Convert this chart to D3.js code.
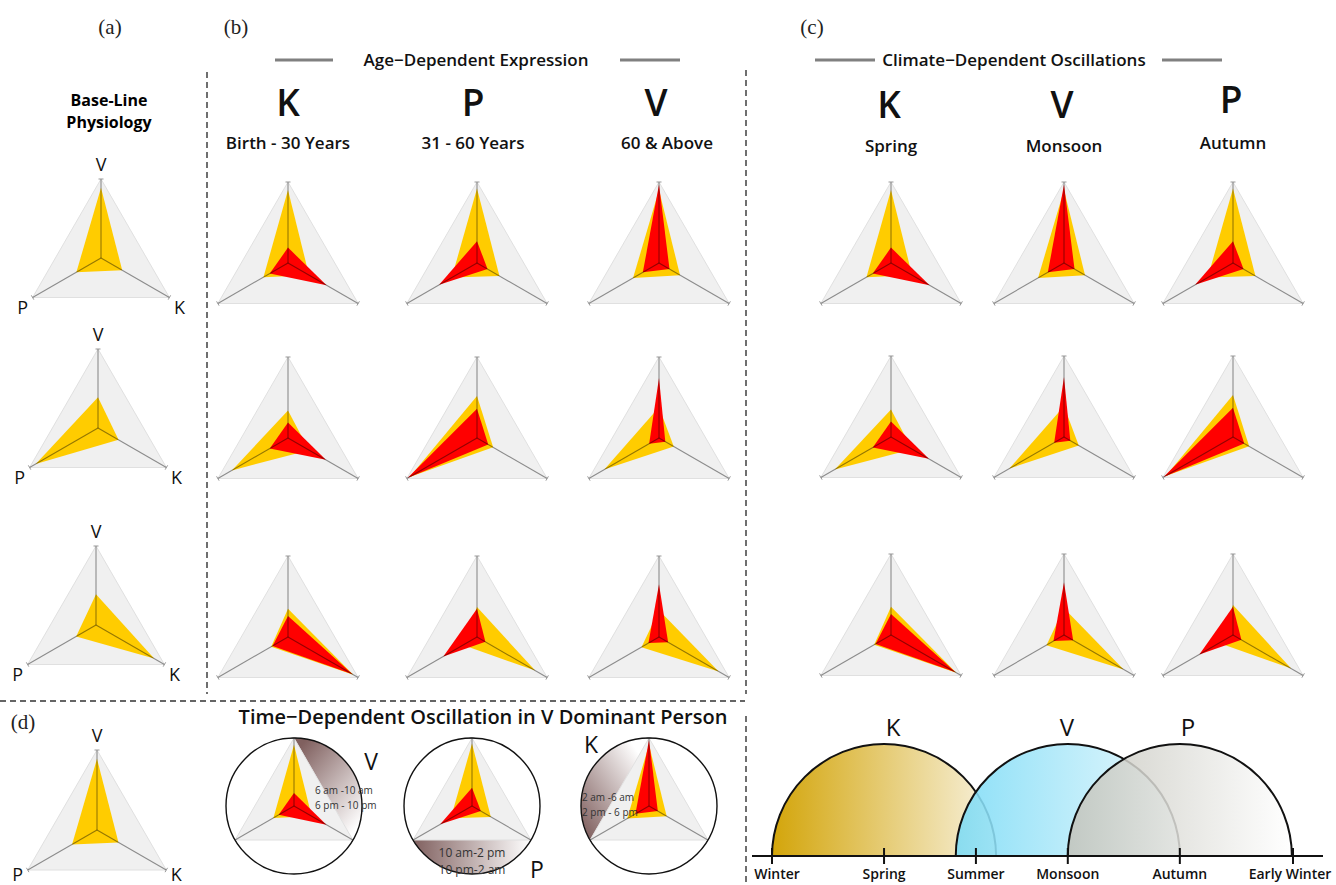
<!DOCTYPE html>
<html>
<head>
<meta charset="utf-8">
<title>Dosha expression radars</title>
<script src="https://d3js.org/d3.v7.min.js"></script>
<style>
html, body { margin: 0; padding: 0; background: #fff; }
svg { display: block; font-family: "Open Sans", sans-serif; }
</style>
</head>
<body>
<div id="chart"></div>
<script>
// radar axes, clockwise from the top
var axes = ["V", "K", "P"];
var constitutions = ["V", "P", "K"];      // rows of (a), (b), (c)
var ageCols = ["K", "P", "V"];            // columns of (b)
var ageLabels = ["Birth - 30 Years", "31 - 60 Years", "60 & Above"];
var climateCols = ["K", "V", "P"];        // columns of (c)
var climateLabels = ["Spring", "Monsoon", "Autumn"];

// base-line physiology (values in axis order V, K, P)
var baseline = {
  V: [0.89, 0.31, 0.36],
  P: [0.39, 0.30, 0.91],
  K: [0.39, 0.85, 0.29]
};
// yellow polygon per constitution and per raised dosha
var yellowVals = {
  V: { K: [0.90, 0.30, 0.35], P: [0.92, 0.32, 0.36], V: [0.90, 0.30, 0.37] },
  P: { K: [0.34, 0.30, 0.80], P: [0.52, 0.23, 0.96], V: [0.38, 0.21, 0.78] },
  K: { K: [0.35, 0.93, 0.24], P: [0.37, 0.83, 0.20], V: [0.33, 0.85, 0.25] }
};
// red polygon per constitution and per raised dosha
var redVals = {
  V: { K: [0.19, 0.55, 0.26], P: [0.27, 0.15, 0.54], V: [0.97, 0.15, 0.23] },
  P: { K: [0.19, 0.54, 0.26], P: [0.36, 0.16, 0.99], V: [0.74, 0.09, 0.14] },
  K: { K: [0.26, 0.92, 0.22], P: [0.35, 0.12, 0.48], V: [0.65, 0.13, 0.15] }
};

// time of day panel (d): V-dominant person
var timeDosha = ["K", "P", "V"];
var timeLabels = [["6 am -10 am", "6 pm - 10 pm"], ["10 am-2 pm", "10 pm-2 am"], ["2 am -6 am", "2 pm - 6 pm"]];
var timeLetters = ["V", "P", "K"];

// seasons
var seasons = ["Winter", "Spring", "Summer", "Monsoon", "Autumn", "Early Winter"];
var seasonAt = [0, 1, 1.82, 2.64, 3.64, 4.65];
var seasonArcs = ["K", "V", "P"];
var arcCenters = [1, 2.64, 3.64];

var W = 1336, H = 885;
var svg = d3.select("#chart").append("svg").attr("width", W).attr("height", H);
var defs = svg.append("defs");

var ang = d3.scalePoint().domain(axes).range([0, 4 * Math.PI / 3]);

function radar(cx, cy, R, yv, rv, labels, lowDy) {
  var rs = d3.scaleLinear().domain([0, 1]).range([0, R]);
  var line = d3.lineRadial()
    .angle(function(d, i) { return ang(axes[i]); })
    .radius(function(d) { return rs(d); })
    .curve(d3.curveLinearClosed);
  var g = svg.append("g").attr("transform", "translate(" + cx + "," + cy + ")");
  g.append("path").attr("d", line([1, 1, 1]))
    .attr("fill", "#f0f0f0").attr("stroke", "#e0e0e0").attr("stroke-width", 1);
  g.append("path").attr("d", line(yv)).attr("fill", "#ffcc00");
  if (rv) g.append("path").attr("d", line(rv)).attr("fill", "#ff0000");
  axes.forEach(function(a) {
    var p = d3.pointRadial(ang(a), R);
    g.append("line").attr("x1", 0).attr("y1", 0).attr("x2", p[0]).attr("y2", p[1])
      .attr("stroke", "#000").attr("stroke-opacity", 0.42).attr("stroke-width", 1.1);
    var q = d3.pointRadial(ang(a) + Math.PI / 2, 2.5);
    g.append("line").attr("x1", p[0] - q[0]).attr("y1", p[1] - q[1])
      .attr("x2", p[0] + q[0]).attr("y2", p[1] + q[1])
      .attr("stroke", "#999").attr("stroke-width", 1);
  });
  if (labels) {
    var dy = lowDy || 16;
    var lt = g.append("g").attr("font-size", 18).attr("fill", "#111").attr("font-weight", 500);
    lt.append("text").attr("x", 0).attr("y", -R - 8).attr("text-anchor", "middle").text("V");
    lt.append("text").attr("x", -R * 0.866 - 10).attr("y", R * 0.5 + dy).attr("text-anchor", "middle").text("P");
    lt.append("text").attr("x", R * 0.866 + 10).attr("y", R * 0.5 + dy).attr("text-anchor", "middle").text("K");
  }
  return g;
}

// ---------- panel labels ----------
var serif = svg.append("g").attr("font-family", "'Liberation Serif', 'DejaVu Serif', serif")
  .attr("font-size", 21).attr("fill", "#222");
serif.append("text").attr("x", 110).attr("y", 34).attr("text-anchor", "middle").text("(a)");
serif.append("text").attr("x", 236).attr("y", 34).attr("text-anchor", "middle").text("(b)");
serif.append("text").attr("x", 812).attr("y", 34).attr("text-anchor", "middle").text("(c)");
serif.append("text").attr("x", 23).attr("y", 729).attr("text-anchor", "middle").text("(d)");

// ---------- dashed separators ----------
var dash = svg.append("g").attr("stroke", "#333").attr("stroke-width", 1.4).attr("stroke-dasharray", "6,4");
dash.append("line").attr("x1", 207).attr("y1", 72).attr("x2", 207).attr("y2", 694);
dash.append("line").attr("x1", 746).attr("y1", 70).attr("x2", 746).attr("y2", 694);
dash.append("line").attr("x1", 0).attr("y1", 701).attr("x2", 745).attr("y2", 701);
dash.append("line").attr("x1", 746).attr("y1", 716).attr("x2", 746).attr("y2", 885);

// ---------- (a) ----------
svg.append("text").attr("x", 109).attr("y", 106).attr("text-anchor", "middle")
  .attr("font-size", 16).attr("font-weight", 700).text("Base-Line");
svg.append("text").attr("x", 109).attr("y", 128).attr("text-anchor", "middle")
  .attr("font-size", 16).attr("font-weight", 700).text("Physiology");
var aCenters = [[101, 258], [98, 428], [96, 625]];
constitutions.forEach(function(c, i) {
  radar(aCenters[i][0], aCenters[i][1], 79, baseline[c], null, true);
});

// ---------- headers for (b) and (c) ----------
function header(title, cx, l1, l2) {
  svg.append("text").attr("x", cx).attr("y", 66).attr("text-anchor", "middle")
    .attr("font-size", 17).attr("font-weight", 600).attr("fill", "#111").text(title);
  var hl = svg.append("g").attr("stroke", "#808080").attr("stroke-width", 3);
  hl.append("line").attr("x1", l1[0]).attr("x2", l1[1]).attr("y1", 60).attr("y2", 60);
  hl.append("line").attr("x1", l2[0]).attr("x2", l2[1]).attr("y1", 60).attr("y2", 60);
}
header("Age\u2212Dependent Expression", 476, [275, 333], [620, 680]);
header("Climate\u2212Dependent Oscillations", 1014, [815, 875], [1162, 1222]);

var bX = [288, 477, 659], bY = [263, 438, 637];
var cX = [891, 1064, 1233], cY = [263, 437, 635];
var R = 81;

ageCols.forEach(function(d, j) {
  svg.append("text").attr("x", [288, 473, 656][j]).attr("y", 116).attr("text-anchor", "middle")
    .attr("font-size", 37).attr("font-weight", 600).attr("fill", "#111").text(d);
  svg.append("text").attr("x", [288, 473, 667][j]).attr("y", 149).attr("text-anchor", "middle")
    .attr("font-size", 17).attr("font-weight", 600).attr("fill", "#111").text(ageLabels[j]);
});
climateCols.forEach(function(d, j) {
  svg.append("text").attr("x", cX[j] - 2).attr("y", [118, 118, 113][j]).attr("text-anchor", "middle")
    .attr("font-size", 37).attr("font-weight", 600).attr("fill", "#111").text(d);
  svg.append("text").attr("x", cX[j]).attr("y", [152, 152, 149][j]).attr("text-anchor", "middle")
    .attr("font-size", 17).attr("font-weight", 600).attr("fill", "#111").text(climateLabels[j]);
});

// ---------- (b) and (c) radars ----------
constitutions.forEach(function(c, i) {
  ageCols.forEach(function(d, j) {
    radar(bX[j], bY[i], R, yellowVals[c][d], redVals[c][d], false);
  });
  climateCols.forEach(function(d, j) {
    radar(cX[j], cY[i], R, yellowVals[c][d], redVals[c][d], false);
  });
});

// ---------- (d) ----------
radar(97, 830, 80, baseline.V, null, true, 11);
svg.append("text").attr("x", 483).attr("y", 724).attr("text-anchor", "middle")
  .attr("font-size", 20).attr("font-weight", 600).attr("fill", "#111")
  .text("Time\u2212Dependent Oscillation in V Dominant Person");

var dX = [294, 472, 649], dY = 806, dR = 68;
// band chord: which two axes bound the shaded segment (clockwise)
var bandFrom = ["V", "K", "P"], bandTo = ["K", "P", "V"];
var gradDirs = [[0.2, 0, 0.9, 0.9], [0, 0.5, 1, 0.5], [0.1, 1, 0.9, 0.2]];
timeDosha.forEach(function(d, k) {
  var cx = dX[k];
  var gid = "band" + k;
  var gr = defs.append("linearGradient").attr("id", gid)
    .attr("x1", gradDirs[k][0]).attr("y1", gradDirs[k][1])
    .attr("x2", gradDirs[k][2]).attr("y2", gradDirs[k][3]);
  gr.append("stop").attr("offset", 0).attr("stop-color", "#80605f");
  gr.append("stop").attr("offset", 1).attr("stop-color", "#ffffff");

  var g = radar(cx, dY, dR, yellowVals.V[d], redVals.V[d], false);
  var a = d3.pointRadial(ang(bandFrom[k]), dR), b = d3.pointRadial(ang(bandTo[k]), dR);
  g.insert("path", ":first-child")
    .attr("d", "M" + a[0] + "," + a[1] + "A" + dR + "," + dR + " 0 0 1 " + b[0] + "," + b[1] + "Z")
    .attr("fill", "url(#" + gid + ")");
  g.append("circle").attr("r", dR).attr("fill", "none").attr("stroke", "#111").attr("stroke-width", 1.4);
});
var tl = svg.append("g").attr("fill", "#333");
tl.append("text").attr("x", 315).attr("y", 794).attr("font-size", 10).text(timeLabels[0][0]);
tl.append("text").attr("x", 315).attr("y", 809).attr("font-size", 10).text(timeLabels[0][1]);
tl.append("text").attr("x", 472).attr("y", 857).attr("font-size", 12).attr("text-anchor", "middle").text(timeLabels[1][0]);
tl.append("text").attr("x", 472).attr("y", 874).attr("font-size", 12).attr("text-anchor", "middle").text(timeLabels[1][1]);
tl.append("text").attr("x", 582).attr("y", 801).attr("font-size", 10).text(timeLabels[2][0]);
tl.append("text").attr("x", 582).attr("y", 816).attr("font-size", 10).text(timeLabels[2][1]);
var bl = svg.append("g").attr("font-size", 23).attr("fill", "#111").attr("text-anchor", "middle");
bl.append("text").attr("x", 371).attr("y", 770).text(timeLetters[0]);
bl.append("text").attr("x", 537).attr("y", 878).text(timeLetters[1]);
bl.append("text").attr("x", 591).attr("y", 753).text(timeLetters[2]);

// ---------- seasons ----------
var sx = d3.scaleLinear().domain([0, 4.65]).range([772, 1293]);
var baseY = 856;
var unit = sx(1) - sx(0);
var arcColors = { K: ["#d3a50a", "#f8f2df"], V: ["#7bdbf6", "#e8f8fd"], P: ["#c3c3ba", "#ffffff"] };
var arcOpacity = { K: 1, V: 0.88, P: 0.85 };
var letterX = { K: 893, V: 1067, P: 1188 };
seasonArcs.forEach(function(s, i) {
  var gid = "season" + s;
  var gr = defs.append("linearGradient").attr("id", gid).attr("x1", 0).attr("x2", 1).attr("y1", 0).attr("y2", 0);
  gr.append("stop").attr("offset", 0).attr("stop-color", arcColors[s][0]);
  gr.append("stop").attr("offset", 1).attr("stop-color", arcColors[s][1]);
  var cx = sx(arcCenters[i]);
  svg.append("path")
    .attr("d", "M" + (cx - unit) + "," + baseY + "A" + unit + "," + unit + " 0 0 1 " + (cx + unit) + "," + baseY + "Z")
    .attr("fill", "url(#" + gid + ")").attr("fill-opacity", arcOpacity[s]);
  svg.append("path")
    .attr("d", "M" + (cx - unit) + "," + baseY + "A" + unit + "," + unit + " 0 0 1 " + (cx + unit) + "," + baseY)
    .attr("fill", "none").attr("stroke", "#111").attr("stroke-width", 2);
  svg.append("text").attr("x", letterX[s]).attr("y", 736).attr("text-anchor", "middle")
    .attr("font-size", 24).attr("fill", "#111").text(s);
});
svg.append("line").attr("x1", 752).attr("x2", 1323).attr("y1", baseY).attr("y2", baseY)
  .attr("stroke", "#111").attr("stroke-width", 2);
var ticks = svg.append("g");
seasons.forEach(function(s, i) {
  ticks.append("line").attr("x1", sx(seasonAt[i])).attr("x2", sx(seasonAt[i]))
    .attr("y1", baseY - 8).attr("y2", baseY + 8).attr("stroke", "#111").attr("stroke-width", 2);
  ticks.append("text").attr("x", sx(seasonAt[i])).attr("y", 879)
    .attr("text-anchor", "middle")
    .attr("dx", i === 0 ? 5 : (i === seasons.length - 1 ? -3 : 0))
    .attr("font-size", 14).attr("font-weight", 600).attr("fill", "#111").text(s);
});
</script>
</body>
</html>
